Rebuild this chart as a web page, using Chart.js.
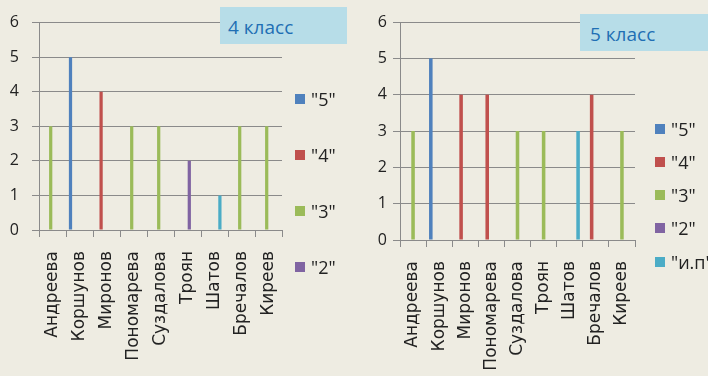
<!DOCTYPE html>
<html><head><meta charset="utf-8">
<script src="https://cdn.jsdelivr.net/npm/chart.js@4/dist/chart.umd.min.js"></script>
<style>
html,body{margin:0;padding:0;background:#eeece2;width:708px;height:376px;overflow:hidden;position:relative;font-family:"Open Sans",sans-serif;}
.wrap{position:absolute;top:0;width:354px;height:376px;}
canvas{display:block;}
.tag{position:absolute;background:#b7dde8;color:#1f6fb4;font-size:19px;height:37px;line-height:37px;box-sizing:border-box;padding-top:2px;white-space:nowrap;}
.li{position:absolute;height:24px;line-height:24px;font-size:18px;color:#222;white-space:nowrap;}
.li span.sq{position:absolute;left:0;top:7px;width:10px;height:10px;}
.li span.tx{position:absolute;left:16px;top:0;}
</style></head>
<body>
<div class="wrap" style="left:0"><canvas id="c1" width="354" height="376"></canvas></div>
<div class="wrap" style="left:354px"><canvas id="c2" width="354" height="376"></canvas></div>
<div class="tag" style="left:220px;top:7px;width:127px;padding-left:8px;">4 класс</div>
<div class="tag" style="left:580px;top:14px;width:140px;padding-left:10px;">5 класс</div>
<div id="leg1"></div><div id="leg2"></div>
<script>
// ---- data ----
const students = ['Андреева','Коршунов','Миронов','Пономарева','Суздалова','Троян','Шатов','Бречалов','Киреев'];
const seriesNames = ['"5"','"4"','"3"','"2"','"и.п"',''];
const seriesColors = ['#4f81bd','#c0504d','#9bbb59','#8064a2','#4bacc6','#f79646'];
const yTicks = [0,1,2,3,4,5,6];

// 4 класс
const g4_5  = [null,5,null,null,null,null,null,null,null];
const g4_4  = [null,null,4,null,null,null,null,null,null];
const g4_3  = [3,null,null,3,3,null,null,3,3];
const g4_2  = [null,null,null,null,null,2,null,null,null];
const g4_ip = [null,null,null,null,null,null,1,null,null];
const g4_x  = [null,null,null,null,null,null,null,null,null];
// 5 класс
const g5_5  = [null,5,null,null,null,null,null,null,null];
const g5_4  = [null,null,4,4,null,null,null,4,null];
const g5_3  = [3,null,null,null,3,3,null,null,3];
const g5_2  = [null,null,null,null,null,null,null,null,null];
const g5_ip = [null,null,null,null,null,null,3,null,null];

const GRID = '#8a8a8a';

function makeChart(id, seriesList, o){
  const datasets = seriesList.map((d,i)=>({
    label: seriesNames[i], data: d, backgroundColor: seriesColors[i],
    categoryPercentage: o.cp, barPercentage: o.bp
  }));
  return new Chart(document.getElementById(id), {
    type:'bar',
    data:{labels:students, datasets},
    options:{
      responsive:false, animation:false,
      layout:{padding:{left:0,top:o.top,right:o.right,bottom:0}},
      plugins:{legend:{display:false}, tooltip:{enabled:false}},
      scales:{
        x:{
          grid:{offset:true, drawOnChartArea:false, drawTicks:true, tickLength:7, color:GRID},
          border:{color:GRID},
          ticks:{autoSkip:false, maxRotation:90, minRotation:90, padding:o.xpad, color:'#222',
                 font:{family:'"DejaVu Sans"', size:17}},
          afterFit:(s)=>{s.height=o.xh;}
        },
        y:{
          min:0, max:6,
          afterBuildTicks:(s)=>{s.ticks = yTicks.map(v=>({value:v}));},
          grid:{color:GRID, tickLength:7, drawTicks:true},
          border:{color:GRID},
          ticks:{padding:o.ypad, color:'#222', font:{family:'"Open Sans"', size:16}},
          afterFit:(s)=>{s.width=o.yw;}
        }
      }
    }
  });
}

makeChart('c1',[g4_5,g4_4,g4_3,g4_2,g4_ip,g4_x],{cp:0.8,bp:0.9,top:15,right:72,xh:146,yw:39,xpad:14,ypad:13});
makeChart('c2',[g5_5,g5_4,g5_3,g5_2,g5_ip],{cp:0.8,bp:0.85,top:22,right:73,xh:136,yw:46,xpad:14,ypad:6});

function legend(elId, count, x, y0, step){
  const el = document.getElementById(elId);
  for(let i=0;i<count;i++){
    const d = document.createElement('div');
    d.className='li';
    d.style.left = x+'px';
    d.style.top = (y0 + i*step - 12)+'px';
    d.innerHTML = '<span class="sq" style="background:'+seriesColors[i]+'"></span><span class="tx"></span>';
    d.querySelector('.tx').textContent = seriesNames[i];
    el.appendChild(d);
  }
}
legend('leg1',4,295,99,56);
legend('leg2',5,655,128.5,33.3);
</script>
</body></html>
